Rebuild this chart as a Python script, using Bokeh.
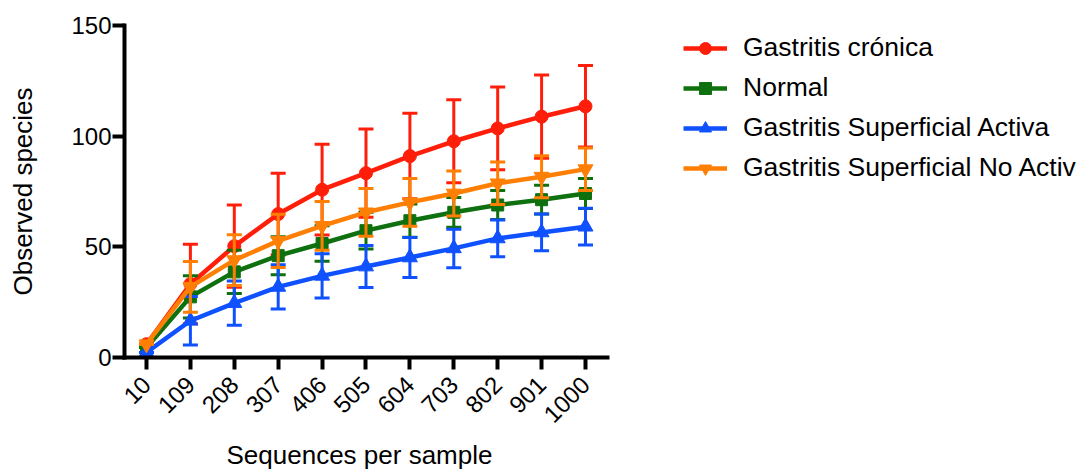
from math import pi
import numpy as np
from bokeh.plotting import figure
from bokeh.models import ColumnDataSource, Legend, LegendItem, FixedTicker, Range1d, Title
from bokeh.embed import file_html
from bokeh.resources import INLINE

# ---- data ----
sequences = [10, 109, 208, 307, 406, 505, 604, 703, 802, 901, 1000]
series_names = ["Gastritis crónica", "Normal", "Gastritis Superficial Activa",
                "Gastritis Superficial No Activ"]
cronica_mean = [6.0, 33.2, 50.3, 64.8, 75.8, 83.3, 91.0, 97.7, 103.5, 108.8, 113.5]
cronica_sd = [0.0, 18.0, 18.6, 18.5, 20.5, 19.9, 19.3, 18.8, 18.7, 18.8, 18.4]
normal_mean = [4.5, 27.4, 38.7, 46.0, 51.5, 57.3, 61.8, 65.6, 68.9, 71.3, 74.1]
normal_sd = [0.0, 9.5, 9.8, 8.6, 8.0, 8.3, 7.5, 6.7, 6.5, 6.5, 6.8]
activa_mean = [2.3, 16.6, 24.6, 31.9, 36.9, 41.1, 45.2, 49.3, 53.8, 56.5, 59.1]
activa_sd = [0.0, 11.0, 10.0, 10.0, 10.0, 9.5, 9.0, 8.7, 8.3, 8.3, 8.3]
noactiva_mean = [6.0, 31.9, 44.0, 52.7, 59.5, 65.6, 70.1, 74.1, 78.7, 81.7, 85.1]
noactiva_sd = [0.0, 11.5, 11.5, 12.0, 11.0, 10.8, 10.8, 10.2, 9.6, 9.5, 9.6]
y_ticks = [0, 50, 100, 150]
x_title = "Sequences per sample"
y_title = "Observed species"

# ---- styles ----
colors = ["#FF1E0A", "#0E700E", "#0F50FF", "#FF7F05"]
markers = ["circle", "square", "triangle", "inverted_triangle"]
msizes = [13, 12, 15, 15]
FONT = "Liberation Sans"

# axis shown from -39.6 to 1049.6; frame continues to the right to host the legend
X_AXIS_END = 1049.6
p = figure(width=1085, height=473,
           x_range=Range1d(-39.6, 2127.6), y_range=Range1d(0, 150),
           output_backend="svg", toolbar_location=None,
           min_border_left=124, min_border_right=0,
           min_border_top=25, min_border_bottom=116)
p.outline_line_color = None
p.grid.visible = False
p.background_fill_color = "white"
p.border_fill_color = "white"

p.xaxis.ticker = FixedTicker(ticks=sequences)
p.yaxis.ticker = FixedTicker(ticks=y_ticks)
p.xaxis.bounds = (-39.6, X_AXIS_END)
for ax in (p.xaxis[0], p.yaxis[0]):
    ax.axis_line_width = 4
    ax.axis_line_color = "black"
    ax.axis_line_cap = "square"
    ax.major_tick_line_width = 4
    ax.major_tick_line_color = "black"
    ax.major_tick_out = 12
    ax.major_tick_in = 0
    ax.minor_tick_line_color = None
    ax.major_label_text_font = FONT
    ax.major_label_text_font_size = "24px"
    ax.major_label_text_color = "black"
    ax.axis_label_text_font = FONT
    ax.axis_label_text_font_size = "26px"
    ax.axis_label_text_font_style = "normal"
    ax.axis_label_text_color = "black"

p.yaxis.axis_label = y_title
p.xaxis.major_label_orientation = pi / 4
p.xaxis.major_label_standoff = 11
p.yaxis.major_label_standoff = 1
p.yaxis.axis_label_standoff = 30

# x-axis title centred under the visible axis (not under the whole frame)
xt = Title(text=x_title, align="left", offset=102, standoff=8,
           text_font=FONT, text_font_size="26px", text_font_style="normal",
           text_color="black")
p.add_layout(xt, "below")

means = [cronica_mean, normal_mean, activa_mean, noactiva_mean]
sds = [cronica_sd, normal_sd, activa_sd, noactiva_sd]

items = []
for name, m, s, c, mk, ms in zip(series_names, means, sds, colors, markers, msizes):
    m_arr = np.array(m)
    s_arr = np.array(s)
    src = ColumnDataSource(dict(x=sequences, y=m, upper=m_arr + s_arr, lower=m_arr - s_arr))
    p.segment(x0="x", y0="lower", x1="x", y1="upper", source=src,
              line_color=c, line_width=3)
    p.scatter(x="x", y="upper", source=src, marker="dash", size=15,
              line_color=c, line_width=3)
    p.scatter(x="x", y="lower", source=src, marker="dash", size=15,
              line_color=c, line_width=3)
    lr = p.line(x="x", y="y", source=src, line_color=c, line_width=4.5)
    sr = p.scatter(x="x", y="y", source=src, marker=mk, size=ms,
                   fill_color=c, line_color=c)
    items.append(LegendItem(label=name, renderers=[lr, sr]))

legend = Legend(items=items, location=(559, 174),
                glyph_width=44, glyph_height=30, label_height=30,
                spacing=9, padding=0, label_standoff=16, margin=0,
                label_text_font=FONT, label_text_font_size="26.5px",
                label_text_color="black",
                border_line_color=None, background_fill_alpha=0)
p.add_layout(legend, "center")

open("out.html", "w").write(file_html(p, INLINE))
